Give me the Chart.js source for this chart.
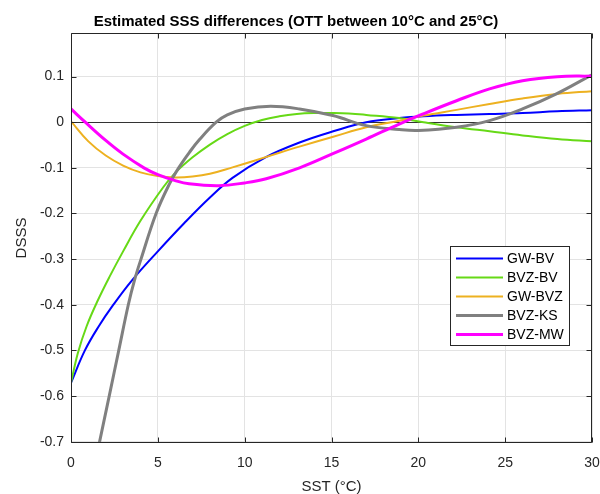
<!DOCTYPE html>
<html>
<head>
<meta charset="utf-8">
<script src="https://cdn.jsdelivr.net/npm/chart.js@4/dist/chart.umd.min.js"></script>
<style>
html,body{margin:0;padding:0;background:#fff;}
#wrap{width:600px;height:494px;}
</style>
</head>
<body>
<div id="wrap"><canvas id="c" width="600" height="494"></canvas></div>
<script>
// ---- data ----
const xTicks = [0, 5, 10, 15, 20, 25, 30];
const yTicks = [-0.7, -0.6, -0.5, -0.4, -0.3, -0.2, -0.1, 0, 0.1];
const seriesNames = ['GW-BV', 'BVZ-BV', 'GW-BVZ', 'BVZ-KS', 'BVZ-MW'];

const gwbvX = [0, 0.8, 1.6, 2.4, 3.5, 5, 6.5, 8, 9.3, 11.2, 13.2, 15.1, 17, 18.9, 20.3, 22.2, 24.1, 26, 28, 30];
const gwbvY = [-0.571, -0.5, -0.447, -0.402, -0.347, -0.283, -0.222, -0.165, -0.122, -0.077, -0.044, -0.020, 0.0, 0.009, 0.013, 0.016, 0.018, 0.020, 0.024, 0.026];

const bvzbvX = [0, 0.4, 0.9, 1.5, 2.2, 3, 4, 5.3, 6, 7, 8, 9, 10, 11, 12, 13, 14, 15, 16, 17, 18.9, 20.3, 22.2, 24.1, 26, 28, 30];
const bvzbvY = [-0.571, -0.505, -0.447, -0.394, -0.34, -0.283, -0.216, -0.143, -0.111, -0.077, -0.049, -0.026, -0.008, 0.005, 0.013, 0.018, 0.020, 0.020, 0.019, 0.016, 0.009, 0.0, -0.011, -0.020, -0.029, -0.037, -0.042];

const gwbvzX = [0, 1, 2, 3, 4, 5, 6, 7, 8, 9.3, 10.6, 12, 13.2, 15.1, 17, 18.9, 20.3, 22.2, 24.1, 26, 28, 30];
const gwbvzY = [0.002, -0.042, -0.073, -0.095, -0.110, -0.118, -0.121, -0.119, -0.113, -0.099, -0.084, -0.067, -0.053, -0.032, -0.011, 0.003, 0.0145, 0.027, 0.040, 0.052, 0.062, 0.068];

const bvzksX = [1.3, 1.63, 2.2, 2.75, 3.3, 3.65, 4.03, 4.9, 5.67, 6.2, 6.82, 7.4, 8.36, 9, 10, 11.5, 13.16, 15.08, 17, 18.9, 20, 22.2, 24.1, 26, 27.95, 30];
const bvzksY = [-0.765, -0.703, -0.6, -0.5, -0.4, -0.347, -0.3, -0.2, -0.135, -0.1, -0.066, -0.038, 0.0, 0.016, 0.029, 0.035, 0.029, 0.0145, -0.0075, -0.016, -0.018, -0.011, 0.0035, 0.029, 0.062, 0.104];

const bvzmwX = [0, 0.82, 2, 3, 4.2, 5, 6, 6.8, 8.5, 10, 11.24, 13.16, 15.08, 17, 18.9, 20.27, 22.2, 24.1, 26, 28, 30];
const bvzmwY = [0.029, 0.0, -0.04, -0.07, -0.1, -0.115, -0.128, -0.135, -0.139, -0.133, -0.124, -0.100, -0.069, -0.037, -0.004, 0.018, 0.047, 0.073, 0.091, 0.0998, 0.101];

function pts(xs, ys) { return xs.map((x, i) => ({x: x, y: ys[i]})); }

const FONT = "'Liberation Sans', Arial, Helvetica, sans-serif";
const AX = '#262626';

const frameAndLegend = {
  id: 'frameAndLegend',
  afterDraw(chart) {
    const {ctx, chartArea: a, scales} = chart;
    const L = Math.round(a.left) + 0.5, R = Math.round(a.right) - 0.5;
    const T = Math.round(a.top) + 0.5, B = Math.round(a.bottom) - 0.5;
    ctx.save();
    ctx.strokeStyle = AX; ctx.lineWidth = 1;
    ctx.beginPath();
    ctx.rect(L, T, R - L, B - T);
    scales.x.ticks.forEach(t => {
      const px = Math.round(scales.x.getPixelForValue(t.value)) + 0.5;
      ctx.moveTo(px, B); ctx.lineTo(px, B - 5);
      ctx.moveTo(px, T); ctx.lineTo(px, T + 5);
    });
    scales.y.ticks.forEach(t => {
      const py = Math.round(scales.y.getPixelForValue(t.value)) + 0.5;
      ctx.moveTo(L, py); ctx.lineTo(L + 5, py);
      ctx.moveTo(R, py); ctx.lineTo(R - 5, py);
    });
    ctx.stroke();

    // legend
    const bx = 450.5, by = 246.5, bw = 119, bh = 99;
    ctx.fillStyle = '#fff';
    ctx.fillRect(bx, by, bw, bh);
    ctx.strokeStyle = AX; ctx.lineWidth = 1;
    ctx.strokeRect(bx, by, bw, bh);
    ctx.font = '14px ' + FONT;
    ctx.textBaseline = 'middle';
    ctx.textAlign = 'left';
    chart.data.datasets.forEach((ds, k) => {
      const yy = 258.5 + k * 19;
      ctx.strokeStyle = ds.borderColor;
      ctx.lineWidth = ds.borderWidth;
      ctx.beginPath();
      ctx.moveTo(456, yy); ctx.lineTo(503, yy);
      ctx.stroke();
      ctx.fillStyle = '#000';
      ctx.fillText(ds.label, 507, yy + 0.5);
    });
    ctx.restore();
  }
};

const baseDs = {showLine: true, pointRadius: 0, fill: false, tension: 0.4};

new Chart(document.getElementById('c'), {
  type: 'scatter',
  data: {
    datasets: [
      Object.assign({}, baseDs, {label: seriesNames[0], data: pts(gwbvX, gwbvY), borderColor: '#0000FF', borderWidth: 2, order: 5}),
      Object.assign({}, baseDs, {label: seriesNames[1], data: pts(bvzbvX, bvzbvY), borderColor: '#66D916', borderWidth: 2, order: 4}),
      Object.assign({}, baseDs, {label: seriesNames[2], data: pts(gwbvzX, gwbvzY), borderColor: '#EDB120', borderWidth: 2, order: 3}),
      Object.assign({}, baseDs, {label: seriesNames[3], data: pts(bvzksX, bvzksY), borderColor: '#808080', borderWidth: 3, order: 2}),
      Object.assign({}, baseDs, {label: seriesNames[4], data: pts(bvzmwX, bvzmwY), borderColor: '#FF00FF', borderWidth: 3, order: 1})
    ]
  },
  options: {
    responsive: false,
    animation: false,
    devicePixelRatio: 1,
    layout: {padding: {left: 0, right: 8, top: 0, bottom: 0}},
    plugins: {
      legend: {display: false},
      tooltip: {enabled: false},
      title: {
        display: true,
        text: 'Estimated SSS differences (OTT between 10°C and 25°C)',
        color: '#000',
        font: {family: FONT, size: 15, weight: 'bold', lineHeight: 1.2},
        padding: {top: 13, bottom: 2}
      }
    },
    scales: {
      x: {
        type: 'linear', min: 0, max: 30,
        afterBuildTicks: s => { s.ticks = xTicks.map(v => ({value: v})); },
        afterFit: s => { s.height = 51; s.paddingRight = 0; s.paddingLeft = 0; },
        ticks: {color: AX, font: {family: FONT, size: 14}, padding: 12, maxRotation: 0,
                callback: v => String(v)},
        grid: {color: '#e3e3e3', lineWidth: 1, drawTicks: false},
        border: {display: false},
        title: {display: true, text: 'SST (°C)', color: AX,
                font: {family: FONT, size: 15, lineHeight: 1.0}, padding: {top: 0, bottom: 0}}
      },
      y: {
        type: 'linear', min: -0.7028, max: 0.1954,
        afterBuildTicks: s => { s.ticks = yTicks.map(v => ({value: v})); },
        afterFit: s => { s.width = 71; s.paddingTop = 0; s.paddingBottom = 0; },
        ticks: {color: AX, font: {family: FONT, size: 14}, padding: 7,
                callback: v => (Math.abs(v) < 1e-9 ? '0' : Number(v).toFixed(1))},
        grid: {color: c => (c.tick && Math.abs(c.tick.value) < 1e-9 ? '#333333' : '#e3e3e3'),
               lineWidth: 1, drawTicks: false},
        border: {display: false},
        title: {display: true, text: 'DSSS', color: AX,
                font: {family: FONT, size: 15, lineHeight: 1.2}, padding: {top: 13, bottom: 0}}
      }
    }
  },
  plugins: [frameAndLegend]
});
</script>
</body>
</html>
